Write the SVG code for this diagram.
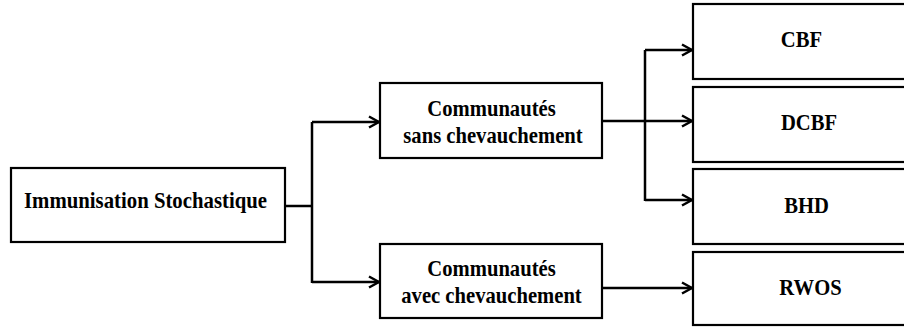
<svg xmlns="http://www.w3.org/2000/svg" width="904" height="327" viewBox="0 0 904 327">
  <style>
    .box { fill: #ffffff; stroke: #000000; stroke-width: 2.2; }
    .ln { fill: none; stroke: #000000; stroke-width: 2.5; }
    .lbl { text-anchor: middle; }
  </style>
  <defs>
    <marker id="arr" markerUnits="userSpaceOnUse" markerWidth="14" markerHeight="14" viewBox="0 0 14 14" refX="12" refY="7" orient="auto">
      <path d="M2,1.5 L12,7 L2,12.5" fill="none" stroke="#000000" stroke-width="2.5"/>
    </marker>
  </defs>
  <rect width="904" height="327" fill="#ffffff"/>

  <g id="connectors">
    <path class="ln" d="M285,206 H312"/>
    <path class="ln" d="M312,122 V283"/>
    <path class="ln" d="M312,122 H379" marker-end="url(#arr)"/>
    <path class="ln" d="M312,282 H379" marker-end="url(#arr)"/>
    <path class="ln" d="M602,121 H692" marker-end="url(#arr)"/>
    <path class="ln" d="M645,50 V201"/>
    <path class="ln" d="M645,50 H692" marker-end="url(#arr)"/>
    <path class="ln" d="M645,200 H692" marker-end="url(#arr)"/>
    <path class="ln" d="M602,288 H692" marker-end="url(#arr)"/>
  </g>

  <g id="nodes" font-family="Liberation Serif, Times New Roman, serif" font-weight="bold" font-size="24" fill="#000000">
  <g id="immunisation">
    <rect class="box" x="11" y="168" width="274" height="74"/>
    <text class="lbl" transform="translate(145.5,208) scale(0.866,1)">Immunisation Stochastique</text>
  </g>

  <g id="sans-chevauchement">
    <rect class="box" x="380" y="83" width="222" height="75"/>
    <text class="lbl" transform="translate(491.5,116) scale(0.86,1)">Communautés</text>
    <text class="lbl" transform="translate(493,143) scale(0.86,1)">sans chevauchement</text>
  </g>

  <g id="avec-chevauchement">
    <rect class="box" x="380" y="244" width="222" height="74"/>
    <text class="lbl" transform="translate(491.5,276) scale(0.86,1)">Communautés</text>
    <text class="lbl" transform="translate(491.5,303) scale(0.86,1)">avec chevauchement</text>
  </g>

  <g id="cbf">
    <rect class="box" x="693" y="4" width="220" height="75"/>
    <text class="lbl" transform="translate(801.5,47) scale(0.86,1)">CBF</text>
  </g>

  <g id="dcbf">
    <rect class="box" x="693" y="87" width="220" height="75"/>
    <text class="lbl" transform="translate(809,130) scale(0.86,1)">DCBF</text>
  </g>

  <g id="bhd">
    <rect class="box" x="693" y="169" width="220" height="75"/>
    <text class="lbl" transform="translate(806.5,213) scale(0.86,1)">BHD</text>
  </g>

  <g id="rwos">
    <rect class="box" x="693" y="252" width="220" height="73"/>
    <text class="lbl" transform="translate(810.5,295) scale(0.86,1)">RWOS</text>
  </g>
  </g>
</svg>
